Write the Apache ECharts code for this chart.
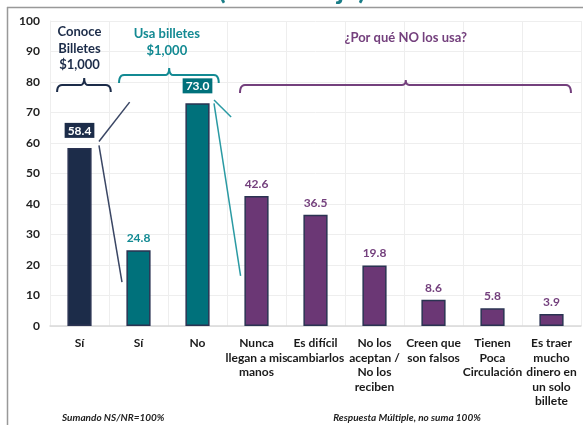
<!DOCTYPE html>
<html><head><meta charset="utf-8">
<script src="https://cdn.jsdelivr.net/npm/echarts@6/dist/echarts.min.js"></script>
<style>html,body{margin:0;padding:0;background:#fff}#c{width:583px;height:425px}</style>
</head><body><div id="c"></div>
<script>
const categories = ['Sí','Sí','No','Nunca\nllegan a mis\nmanos','Es difícil\ncambiarlos','No los\naceptan /\nNo los\nreciben','Creen que\nson falsos','Tienen\nPoca\nCirculación','Es traer\nmucho\ndinero en\nun solo\nbillete'];
const values = [58.4, 24.8, 73.0, 42.6, 36.5, 19.8, 8.6, 5.8, 3.9];
const groups = ['conoce','usa','usa','porque','porque','porque','porque','porque','porque'];
const yTicks = [0,10,20,30,40,50,60,70,80,90,100];
const groupTitles = {conoce:'Conoce\nBilletes\n$1,000', usa:'Usa billetes\n$1,000', porque:'¿Por qué NO los usa?'};
const boxedLabels = [0, 2];
const titleText = '(Porcentaje)';
const notes = ['Sumando NS/NR=100%', 'Respuesta Múltiple, no suma 100%'];

const COL = {conoce:'#1c2c49', usa:'#00717b', porque:'#6b3775'};
const TXT = {conoce:'#1c2c49', usa:'#138a93', porque:'#74407d'};
const FONT = 'Lato, "Open Sans", sans-serif';

const chart = echarts.init(document.getElementById('c'));
const data = values.map((v,i)=>{
  const g = groups[i];
  const boxed = boxedLabels.includes(i);
  return {
    value: v,
    itemStyle:{color:COL[g], borderColor:'#2a3352', borderWidth:1.5},
    label:{show:true, position:'top', distance: boxed?10:6, formatter: p=>p.value.toFixed(1),
      color: boxed?'#fff':TXT[g], fontWeight:'bold', fontSize:12, fontFamily:FONT,
      backgroundColor: boxed?COL[g]:'transparent', padding: boxed?[2,3,1,3]:0}
  };
});

const option = {
  animation:false,
  backgroundColor:'#fff',
  grid:{left:50, right:2, top:21, bottom:99, containLabel:false},
  xAxis:{type:'category', data:categories,
    axisLine:{show:true, lineStyle:{color:'#d9d9d9', width:1.5}},
    axisTick:{show:false},
    splitLine:{show:true, lineStyle:{color:'#eeeeee'}},
    axisLabel:{interval:0, color:'#1a1a1a', fontWeight:'bold', fontSize:12, fontFamily:FONT, lineHeight:14.5, margin:10}},
  yAxis:{type:'value', min:yTicks[0], max:yTicks[yTicks.length-1], interval:yTicks[1]-yTicks[0],
    axisLine:{show:true, lineStyle:{color:'#eeeeee'}},
    axisTick:{show:false},
    splitLine:{lineStyle:{color:'#eeeeee'}},
    axisLabel:{color:'#222', fontWeight:'bold', fontSize:12, fontFamily:FONT, margin:10}},
  series:[{type:'bar', data:data, barWidth:'41%'}]
};
chart.setOption(option);

const x0 = chart.convertToPixel({xAxisIndex:0}, 0);
const x1 = chart.convertToPixel({xAxisIndex:0}, 1);
const bw = x1 - x0;
const X = c => x0 + c*bw;
const Y = v => chart.convertToPixel({yAxisIndex:0}, v);

function quad(p0,p1,p2,n){
  const pts=[];
  for(let k=1;k<=n;k++){const t=k/n;const a=(1-t)*(1-t),b=2*(1-t)*t,c=t*t;
    pts.push([a*p0[0]+b*p1[0]+c*p2[0], a*p0[1]+b*p1[1]+c*p2[1]]);}
  return pts;
}
function bracket(c1,c2,cc,v,drop,tick,color){
  const y=Y(v), xa=X(c1), xb=X(c2), xc=X(cc);
  let pts=[[xa,y+drop]];
  pts=pts.concat(quad([xa,y+drop],[xa,y],[xa+5,y],6));
  pts.push([xc-4,y]);
  pts=pts.concat(quad([xc-4,y],[xc,y],[xc,y-tick],5));
  pts=pts.concat(quad([xc,y-tick],[xc,y],[xc+4,y],5));
  pts.push([xb-5,y]);
  pts=pts.concat(quad([xb-5,y],[xb,y],[xb,y+drop],6));
  return {type:'polyline', silent:true, shape:{points:pts}, style:{stroke:color, lineWidth:2, fill:null}};
}
function seg(ca,va,cb,vb,color){
  return {type:'line', silent:true, shape:{x1:X(ca),y1:Y(va),x2:X(cb),y2:Y(vb)}, style:{stroke:color, lineWidth:1.5}};
}
function label(c,v,text,color){
  return {type:'text', silent:true, x:X(c), y:Y(v), style:{text:text, fill:color, font:'bold 13px '+FONT, align:'center', verticalAlign:'middle', lineHeight:16.5}};
}

const graphics = [
  {type:'line', silent:true, shape:{x1:7,y1:7.5,x2:583,y2:7.5}, style:{stroke:'#999', lineWidth:1.5}},
  {type:'line', silent:true, shape:{x1:7.5,y1:7,x2:7.5,y2:425}, style:{stroke:'#999', lineWidth:1.5}},
  {type:'text', silent:true, x:292, y:-10, style:{text:titleText, fill:'#1a7d87', font:'bold 28px '+FONT, align:'center', verticalAlign:'middle'}},
  bracket(-0.38,0.53,0.08,79.0,7,7,COL.conoce),
  bracket(0.67,2.36,1.52,82.3,8,7,TXT.usa),
  bracket(2.72,8.33,5.53,79.0,8,5,TXT.porque),
  label(0,91,groupTitles.conoce,TXT.conoce),
  label(1.48,93,groupTitles.usa,TXT.usa),
  label(5.53,94.4,groupTitles.porque,TXT.porque),
  seg(0.33,60.5,0.85,73.4,'#3a4664'),
  seg(0.33,59.2,0.72,14.4,'#3a4664'),
  seg(2.28,74.1,2.57,68.5,'#2a9aa3'),
  seg(2.28,73.0,2.73,16.4,'#2a9aa3'),
  {type:'text', silent:true, x:62, y:418, style:{text:notes[0], fill:'#222', font:'italic bold 10px '+FONT, align:'left', verticalAlign:'middle'}},
  {type:'text', silent:true, x:407, y:418, style:{text:notes[1], fill:'#222', font:'italic bold 10px '+FONT, align:'center', verticalAlign:'middle'}}
];
chart.setOption({graphic:graphics});
</script></body></html>
